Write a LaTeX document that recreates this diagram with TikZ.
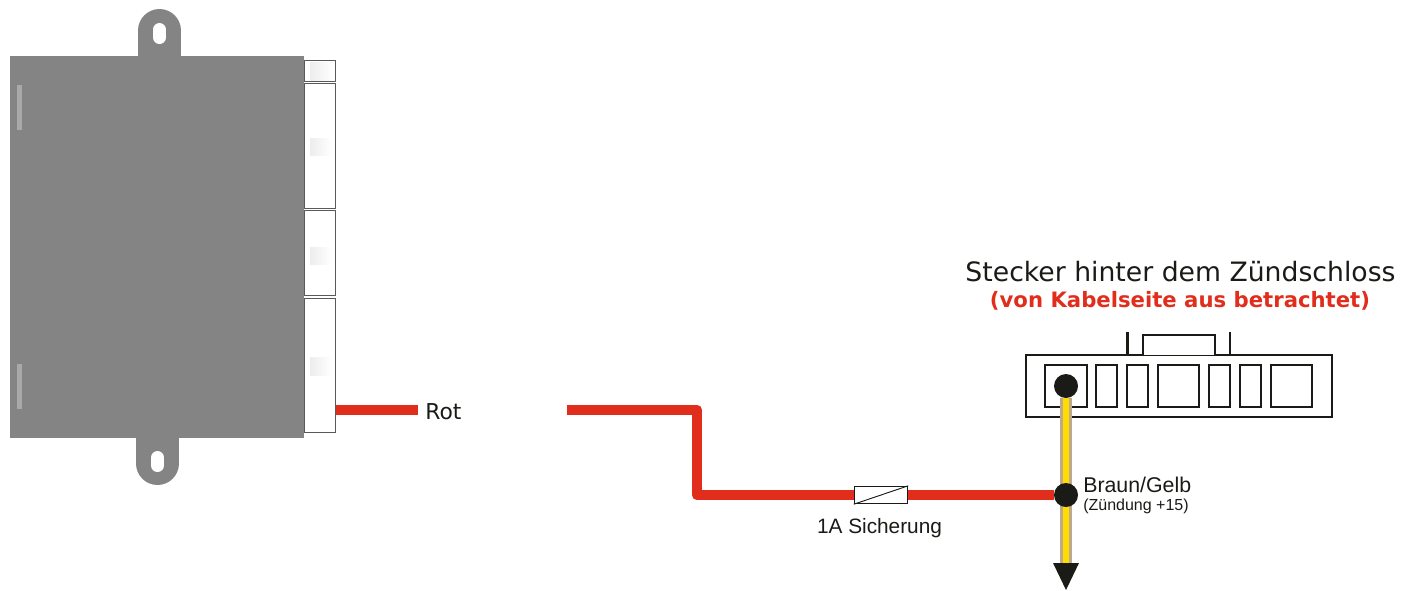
\documentclass[tikz,border=0pt]{standalone}
\usepackage{fontspec}
\setmainfont{Liberation Sans}
\newfontfamily\verdanalike{DejaVu Sans}
\usetikzlibrary{backgrounds}
\definecolor{boxgrey}{HTML}{848484}
\definecolor{barGrey}{HTML}{A9A9A9}
\definecolor{wireRed}{HTML}{E12D1C}
\definecolor{wireYellow}{HTML}{FFDD00}
\definecolor{wireTan}{HTML}{BDA98C}
\definecolor{inkBlack}{HTML}{1A1A17}
\tikzset{
	lug/.style={line width=32.25pt, line cap=round, color=boxgrey},
	slot/.style={line width=9.75pt, line cap=round, color=white},
	plug/.style={draw=black!65, line width=0.7pt, fill=white},
	patch/.style={left color=black!7, right color=white},
	redwire/.style={line width=8pt, color=wireRed, line join=round},
	tanwire/.style={line width=8.5pt, color=wireTan},
	yellowwire/.style={line width=4.5pt, color=wireYellow},
	housing/.style={draw=inkBlack, line width=1.6pt, fill=white},
	pinbox/.style={draw=inkBlack, line width=1.2pt, fill=white},
	dot/.style={circle, fill=inkBlack, inner sep=0pt, minimum size=18pt},
	fuse/.style={draw=inkBlack, line width=0.8pt, fill=white, inner sep=0pt, minimum width=40pt, minimum height=13pt},
	smalltext/.style={text=inkBlack, inner sep=0pt}
}
\begin{document}
\begin{tikzpicture}[x=0.75pt, y=-0.75pt]
	\useasboundingbox (0, 0) rectangle (1401, 590);

	\coordinate (modout) at (336, 410);
	\coordinate (rotend) at (418, 410);
	\coordinate (rotstart) at (567, 410);
	\coordinate (kinktop) at (697, 410);
	\coordinate (kinkbottom) at (697, 495);
	\coordinate (wireend) at (1066, 565);
	\coordinate (tipleft) at (1053, 563);
	\coordinate (tipright) at (1079, 563);
	\coordinate (tip) at (1066, 590);

	\node[fuse] (fuse1) at (881, 495) {};
	\node[dot] (junction) at (1066, 495) {};
	\node[dot] (pin1) at (1066, 386) {};
	\draw[inkBlack, line width=0.7pt] (fuse1.south west) -- (fuse1.north east);

	\begin{scope}[on background layer]
	%%%%% MODULE %%%%%
	\draw[lug] (159.5, 60) -- (159.5, 30.5);
	\draw[slot] (159.5, 29.5) -- (159.5, 37.5);
	\draw[lug] (157.5, 434) -- (157.5, 463.5);
	\draw[slot] (157.5, 457.5) -- (157.5, 465.5);

	\draw[plug] (304, 60) rectangle (335.5, 81);
	\draw[plug] (304, 83) rectangle (335.5, 208);
	\draw[plug] (304, 210) rectangle (335.5, 295);
	\draw[plug] (304, 298) rectangle (335.5, 432);
	\shade[patch] (310, 62) rectangle (334, 80);
	\shade[patch] (310, 138) rectangle (332, 155);
	\shade[patch] (310, 247) rectangle (332, 264);
	\shade[patch] (310, 357) rectangle (332, 375);

	\fill[boxgrey] (10, 56) rectangle (304, 438);
	\fill[barGrey] (17, 85) rectangle (22, 130);
	\fill[barGrey] (17, 364) rectangle (22, 409);

	%%%%% PLUG %%%%%
	\draw[housing] (1026, 355) rectangle (1332, 417);
	\draw[housing] (1127.5, 332) -- (1127.5, 355);
	\draw[housing] (1230, 332) -- (1230, 355);
	\draw[pinbox] (1143, 355) -- (1143, 335) -- (1215, 335) -- (1215, 355);
	\foreach \xa/\xb in {1045/1087, 1096/1117, 1127/1148, 1158/1199, 1209/1230, 1240/1261, 1271/1312}
		\draw[pinbox] (\xa, 365) rectangle (\xb, 407);

	%%%%% WIRES %%%%%
	\draw[redwire] (modout) -- (rotend);
	\draw[redwire] (rotstart) -- (kinktop) -- (kinkbottom) -- (fuse1);
	\draw[redwire] (fuse1) -- (junction);
	\draw[tanwire] (pin1) -- (wireend);
	\draw[yellowwire] (pin1) -- (wireend);
	\fill[inkBlack] (tipleft) -- (tipright) -- (tip) -- cycle;
	\end{scope}

	%%%%% LABELS %%%%%
	\node[anchor=west, smalltext, font=\verdanalike\fontsize{16.4}{18}\selectfont] (rotlabel) at (425, 411.5) {Rot};
	\node[smalltext, font=\fontsize{15.6}{18}\selectfont] (fuselabel) at (879.5, 528) {1A Sicherung};
	\node[anchor=west, smalltext, font=\fontsize{16}{18}\selectfont] (gelblabel) at (1083, 484.5) {Braun/Gelb};
	\node[anchor=west, smalltext, font=\fontsize{12}{14}\selectfont] (zuendlabel) at (1083, 506.5) {(Zündung +15)};
	\node[smalltext, font=\verdanalike\fontsize{20}{22}\selectfont] (title) at (1180.5, 272) {Stecker hinter dem Zündschloss};
	\node[smalltext, text=wireRed, font=\verdanalike\bfseries\fontsize{15.9}{18}\selectfont] (subtitle) at (1180, 301) {(von Kabelseite aus betrachtet)};
\end{tikzpicture}
\end{document}
